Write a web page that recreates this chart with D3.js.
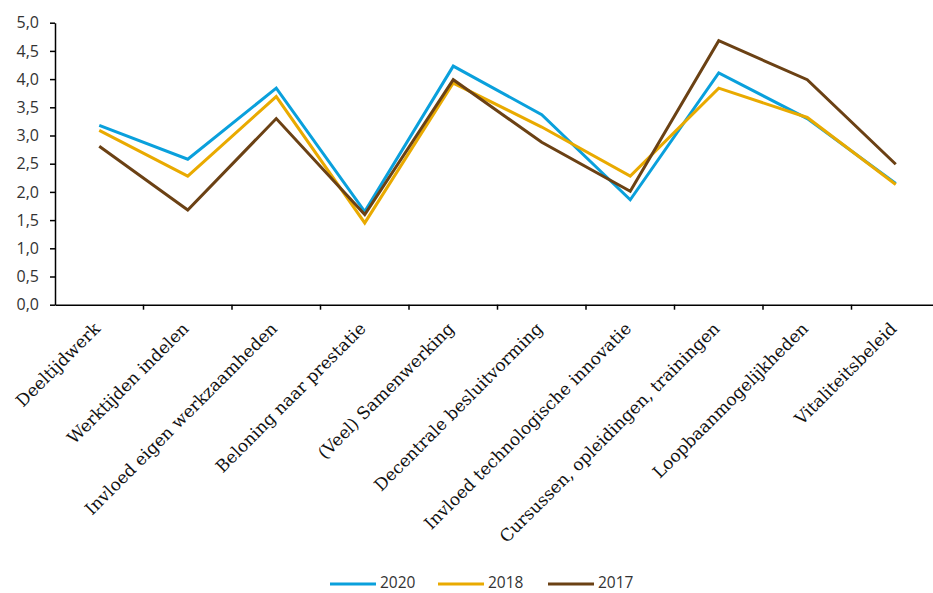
<!DOCTYPE html>
<html><head><meta charset="utf-8">
<script src="https://cdn.jsdelivr.net/npm/d3@7"></script>
<style>body{margin:0;background:#fff}svg{display:block}</style>
</head><body>
<svg id="c" width="933" height="593"></svg>
<script>
const categories = ["Deeltijdwerk","Werktijden indelen","Invloed eigen werkzaamheden","Beloning naar prestatie","(Veel) Samenwerking","Decentrale besluitvorming","Invloed technologische innovatie","Cursussen, opleidingen, trainingen","Loopbaanmogelijkheden","Vitaliteitsbeleid"];
const v2020 = [3.18,2.58,3.84,1.65,4.23,3.37,1.86,4.11,3.30,2.15];
const v2018 = [3.09,2.28,3.69,1.45,3.93,3.15,2.28,3.84,3.32,2.13];
const v2017 = [2.81,1.68,3.30,1.60,3.99,2.88,2.01,4.68,3.99,2.49];
const seriesNames = ["2020","2018","2017"];
const yTicks = [0,0.5,1,1.5,2,2.5,3,3.5,4,4.5,5];
const colors = ["#0AA0DC","#E9AA00","#6B4114"];
const series = [v2020,v2018,v2017];

const svg = d3.select("#c");
const x = d3.scaleBand().domain(categories).range([55,940]);
const y = d3.scaleLinear().domain([0,5]).range([304.7,22.7]);
const fmt = d => d.toFixed(1).replace(".", ",");

const gy = svg.append("g").attr("transform","translate(55,0)")
  .call(d3.axisLeft(y).tickValues(yTicks).tickFormat(fmt).tickSize(5).tickSizeOuter(0));
gy.select(".domain").attr("stroke","#000").attr("stroke-width",1.5);
gy.selectAll(".tick line").attr("stroke","#000").attr("stroke-width",1.5);
gy.selectAll(".tick text").attr("font-family","'Open Sans', sans-serif").attr("font-size",16).attr("fill","#333").attr("x",-16);

const gx = svg.append("g").attr("transform","translate(0,304.7)")
  .call(d3.axisBottom(x).tickSize(0).tickSizeOuter(0));
gx.select(".domain").attr("stroke","#000").attr("stroke-width",1.5);
gx.selectAll(".tick line").remove();
gx.selectAll("line.bt").data(categories.slice(1)).enter().append("line")
  .attr("class","bt").attr("x1",d=>x(d)).attr("x2",d=>x(d)).attr("y1",0).attr("y2",5)
  .attr("stroke","#000").attr("stroke-width",1.5);
gx.selectAll(".tick text")
  .attr("font-family","'DejaVu Serif', serif").attr("font-size",17).attr("fill","#111")
  .attr("text-anchor","end").attr("dy",0).attr("y",0)
  .attr("transform","translate(2,25) rotate(-45)");

const line = d3.line().x((d,i)=>x(categories[i])+x.bandwidth()/2).y(d=>y(d));
series.forEach((s,k)=>{
  svg.append("path").datum(s).attr("d",line).attr("fill","none")
    .attr("stroke",colors[k]).attr("stroke-width",3).attr("stroke-linejoin","miter");
});

const leg = svg.append("g").attr("transform","translate(0,583)");
const legX = [330,438,548];
seriesNames.forEach((n,k)=>{
  leg.append("line").attr("x1",legX[k]).attr("x2",legX[k]+46).attr("y1",1).attr("y2",1)
    .attr("stroke",colors[k]).attr("stroke-width",3);
  leg.append("text").attr("x",legX[k]+50).attr("y",0).attr("dy","0.35em").text(n)
    .attr("font-family","'Open Sans', sans-serif").attr("font-size",15.5).attr("fill","#333");
});
</script>
</body></html>
